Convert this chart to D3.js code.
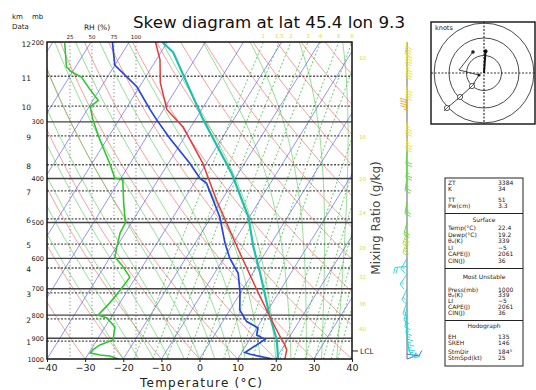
<!DOCTYPE html>
<html>
<head>
<meta charset="utf-8">
<script src="https://cdn.jsdelivr.net/npm/d3@7/dist/d3.min.js"></script>
<style>
body{margin:0;background:#fff;}
svg{display:block;font-family:"DejaVu Sans",Verdana,sans-serif;}
</style>
</head>
<body>
<svg id="chart" width="536" height="390"></svg>
<script>
// ---------- sounding data ----------
const tempP = [1000, 955, 931, 908, 807, 704, 575, 446, 370, 308, 282, 246, 219, 200];
const tempT = [22.4, 21.4, 20.1, 18.5, 11.6, 3.8, -7.5, -21.4, -31.0, -42.0, -49.1, -55.2, -59.0, -63.1];

const dewP = [1000, 976, 968, 905, 885, 854, 827, 780, 711, 647, 600, 556, 486, 410, 400, 370, 326, 297, 282, 251, 225, 200];
const dewT = [19.2, 12.5, 10.9, 14.0, 11.1, 10.3, 6.3, 2.6, -0.3, -3.8, -8.4, -12.1, -17.8, -26.7, -29.2, -34.4, -43.7, -50.1, -53.5, -60.7, -70.0, -74.4];

const parcelP = [1000, 908, 807, 646, 566, 486, 390, 297, 211, 200];
const parcelT = [20.6, 17.2, 11.6, 1.9, -4.1, -10.3, -21.7, -37.9, -56.7, -61.3];

const rhP = [1000, 985, 980, 970, 955, 931, 908, 850, 812, 800, 792, 753, 705, 660, 621, 596, 569, 527, 501, 453, 403, 399, 370, 329, 297, 278, 269, 255, 239, 233, 227, 201];
const rhV = [80, 70, 59, 48, 51, 59, 74, 76, 67, 57, 59, 70, 82, 93, 84, 76, 78, 82, 88, 86, 85, 76, 70, 59, 51, 48, 57, 48, 38, 27, 21, 19];

// winds: pressure (mb), direction (deg), speed (kt)
const windP   = [1000, 975, 950, 925, 900, 875, 850, 825, 800, 775, 750, 700, 650, 625, 600, 550, 525, 500, 450, 400, 375, 350, 325, 300, 285, 250, 225, 210, 200];
const windDir = [70, 100, 140, 160, 170, 175, 180, 185, 190, 195, 200, 205, 215, 265, 210, 200, 200, 195, 190, 190, 185, 185, 185, 185, 355, 185, 185, 185, 190];
const windSpd = [6, 8, 12, 14, 15, 15, 16, 15, 14, 14, 14, 15, 16, 18, 17, 27, 28, 22, 23, 23, 24, 22, 33, 36, 47, 40, 44, 42, 40];

// hodograph trace (kt, u east / v north)
const hodoU = [-5.7, -13.7, -27.4, -42.3];
const hodoV = [-2.3, -14.9, -27.4, -40.0];
const hodoUpperU = [-28.6, -12.6];
const hodoUpperV = [3.4, 24.0];
const hodoRings = [20, 40, 57];

// axes / ticks
const tempTicks = [-40, -30, -20, -10, 0, 10, 20, 30, 40];
const pressureLines = [900, 800, 700, 600, 500, 400, 300];
const pressureLabels = [1000, 900, 800, 700, 600, 500, 400, 300, 200];
const heightKm = [1, 2, 3, 4, 5, 6, 7, 8, 9, 10, 11, 12];
const heightP = [913, 816, 715, 630, 558, 491, 426, 373, 322, 277, 238, 201];
const rhTicks = [25, 50, 75, 100];
const mixRatios = [1, 1.5, 2, 3, 4, 6, 8, 10, 16, 20, 24, 28, 32, 36, 40];
const topMixLabels = [1, 1.5, 2, 3, 4, 6, 8];
const sideMixLabels = [10, 16, 20, 24, 28, 32, 36, 40];
const sideMixLabelP = [217, 324, 400, 477, 568, 659, 756, 858];
const isoTemps = d3.range(-130, 50, 10);
const dryThetaC = d3.range(-40, 170, 10);
const moistThetaW = d3.range(-20, 44, 4);
const lclP = 960;

// summary table
const tableTop = [["ZT", "3384"], ["K", "34"], null, ["TT", "51"], ["Pw(cm)", "3.3"]];
const tableSurface = [["Temp(°C)", "22.4"], ["Dewp(°C)", "19.2"], ["θ\u2091(K)", "339"], ["LI", "\u22125"], ["CAPE(J)", "2061"], ["CIN(J)", "36"]];
const tableMU = [["Press(mb)", "1000"], ["θ\u2091(K)", "339"], ["LI", "\u22125"], ["CAPE(J)", "2061"], ["CIN(J)", "36"]];
const tableHodo = [["EH", "135"], ["SREH", "146"], null, ["StmDir", "184°"], ["StmSpd(kt)", "25"]];
const stormDir = 184, stormSpd = 25;

// ---------- geometry ----------
const svg = d3.select("#chart");
const plot = {left: 47, right: 352, top: 42, bottom: 359};
const xT = d3.scaleLinear().domain([-40, 40]).range([plot.left, plot.right]);
const y = d3.scaleLog().domain([1000, 200]).range([plot.bottom, plot.top]);
const skew = 0.62;
const sx = (T, p) => xT(T) + skew * (plot.bottom - y(p));
const xRH = d3.scaleLinear().domain([0, 100]).range([48, 136]);

// thermodynamics for the background lines
const es = T => 6.112 * Math.exp(17.67 * T / (T + 243.5));
const tdFromE = e => { const l = Math.log(e / 6.112); return 243.5 * l / (17.67 - l); };
const tdFromW = (w, p) => tdFromE(w * p / (622 + w));
const pSteps = d3.range(1000, 195, -5);

function moistPath(tw) {
  const Rd = 287.04, cp = 1005.7, Lv = 2.501e6, eps = 0.622;
  const f = (TT, pp) => {
    const e = es(TT - 273.15), rs = eps * e / (pp - e);
    return (Rd * TT + Lv * rs) / (pp * (cp + Lv * Lv * rs * eps / (Rd * TT * TT)));
  };
  let T = tw + 273.15;
  const pts = [];
  for (let i = 0; i < pSteps.length; i++) {
    const p = pSteps[i];
    pts.push({p, T: T - 273.15});
    if (i < pSteps.length - 1) {
      const dp = pSteps[i + 1] - p;
      const k1 = f(T, p), k2 = f(T + k1 * dp / 2, p + dp / 2), k3 = f(T + k2 * dp / 2, p + dp / 2), k4 = f(T + k3 * dp, p + dp);
      T += dp * (k1 + 2 * k2 + 2 * k3 + k4) / 6;
    }
  }
  return pts;
}

const line = d3.line().x(d => sx(d.T, d.p)).y(d => y(d.p));

svg.append("defs").append("clipPath").attr("id", "plotclip")
  .append("rect").attr("x", plot.left).attr("y", plot.top)
  .attr("width", plot.right - plot.left).attr("height", plot.bottom - plot.top);

const bg = svg.append("g").attr("clip-path", "url(#plotclip)");

// dry adiabats
bg.append("g").selectAll("path").data(dryThetaC).join("path")
  .attr("d", th => line(pSteps.map(p => ({p, T: (th + 273.15) * Math.pow(p / 1000, 0.2857) - 273.15}))))
  .attr("fill", "none").attr("stroke", "#f07070").attr("stroke-width", 0.8).attr("opacity", 0.85);

// moist adiabats
bg.append("g").selectAll("path").data(moistThetaW).join("path")
  .attr("d", tw => line(moistPath(tw)))
  .attr("fill", "none").attr("stroke", "#5fcf5f").attr("stroke-width", 0.8).attr("opacity", 0.85);

// isotherms
bg.append("g").selectAll("path").data(isoTemps).join("path")
  .attr("d", t => line([{p: 1000, T: t}, {p: 200, T: t}]))
  .attr("fill", "none").attr("stroke", "#6060f0").attr("stroke-width", 0.8).attr("opacity", 0.85);

// mixing ratio lines
bg.append("g").selectAll("path").data(mixRatios).join("path")
  .attr("d", w => line(pSteps.map(p => ({p, T: tdFromW(w, p)}))))
  .attr("fill", "none").attr("stroke", "#40c040").attr("stroke-width", 0.9)
  .attr("stroke-dasharray", "2,2").attr("opacity", 0.9);

// RH reference verticals
bg.append("g").selectAll("line").data(rhTicks).join("line")
  .attr("x1", d => xRH(d)).attr("x2", d => xRH(d))
  .attr("y1", plot.top).attr("y2", plot.bottom)
  .attr("stroke", "#777").attr("stroke-width", 0.9).attr("stroke-dasharray", "1.2,2.4");

// height lines (dashed) and pressure lines (solid)
bg.append("g").selectAll("line").data(heightP.slice(0, 11)).join("line")
  .attr("x1", plot.left).attr("x2", plot.right)
  .attr("y1", d => y(d)).attr("y2", d => y(d))
  .attr("stroke", "#555").attr("stroke-width", 1.3).attr("stroke-dasharray", "2,1.5");
bg.append("g").selectAll("line").data(pressureLines).join("line")
  .attr("x1", plot.left).attr("x2", plot.right)
  .attr("y1", d => y(d)).attr("y2", d => y(d))
  .attr("stroke", "#444").attr("stroke-width", 1.3);

// profiles
const prof = svg.append("g").attr("clip-path", "url(#plotclip)");
const lineRH = d3.line().x(d => xRH(d.v)).y(d => y(d.p));
prof.append("path").attr("d", lineRH(rhP.map((p, i) => ({p, v: rhV[i]}))))
  .attr("fill", "none").attr("stroke", "#2ec82e").attr("stroke-width", 1.6);
prof.append("path").attr("d", line(parcelP.map((p, i) => ({p, T: parcelT[i]}))))
  .attr("fill", "none").attr("stroke", "#1fbfae").attr("stroke-width", 2.2);
prof.append("path").attr("d", line(tempP.map((p, i) => ({p, T: tempT[i]}))))
  .attr("fill", "none").attr("stroke", "#e83a3a").attr("stroke-width", 1.5);
prof.append("path").attr("d", line(dewP.map((p, i) => ({p, T: dewT[i]}))))
  .attr("fill", "none").attr("stroke", "#2546e0").attr("stroke-width", 1.7);

// frame
svg.append("rect").attr("x", plot.left).attr("y", plot.top)
  .attr("width", plot.right - plot.left).attr("height", plot.bottom - plot.top)
  .attr("fill", "none").attr("stroke", "#111").attr("stroke-width", 1.5);

// temperature axis
const ax = svg.append("g").attr("transform", `translate(0,${plot.bottom})`)
  .call(d3.axisBottom(xT).tickValues(tempTicks).tickSize(3).tickPadding(2).tickFormat(d3.format("d")));
ax.select(".domain").remove();
ax.selectAll("text").attr("font-size", 9.5).attr("fill", "#222").attr("font-family", "DejaVu Sans");
ax.selectAll("line").attr("stroke", "#222");
svg.append("text").attr("x", 201).attr("y", 387).attr("text-anchor", "middle")
  .attr("font-size", 12).attr("fill", "#222").attr("textLength", 122).text("Temperature (°C)");

// pressure labels
const pax = svg.append("g").attr("transform", `translate(${plot.left - 3},0)`)
  .call(d3.axisLeft(y).tickValues(pressureLabels).tickSize(0).tickPadding(0).tickFormat(d3.format("d")));
pax.select(".domain").remove();
pax.selectAll("text").attr("font-size", 6.5).attr("fill", "#222").attr("font-family", "DejaVu Sans");

// height labels
const hax = svg.append("g").attr("transform", "translate(31,0)")
  .call(d3.axisLeft(y).tickValues(heightP).tickSize(0).tickPadding(0)
    .tickFormat(p => heightKm[heightP.indexOf(p)]));
hax.select(".domain").remove();
hax.selectAll("text").attr("font-size", 7.5).attr("fill", "#222").attr("font-family", "DejaVu Sans").attr("dy", "0.5em");

svg.append("text").attr("x", 12).attr("y", 19).attr("font-size", 7).attr("fill", "#222").text("km");
svg.append("text").attr("x", 32).attr("y", 19).attr("font-size", 7).attr("fill", "#222").text("mb");
svg.append("text").attr("x", 12).attr("y", 29).attr("font-size", 7).attr("fill", "#222").text("Data");

// RH scale on top
svg.append("text").attr("x", 97).attr("y", 30).attr("text-anchor", "middle")
  .attr("font-size", 7.5).attr("fill", "#222").text("RH (%)");
svg.append("g").selectAll("text").data(rhTicks).join("text")
  .attr("x", d => xRH(d)).attr("y", 39).attr("text-anchor", "middle")
  .attr("font-size", 5.5).attr("fill", "#222").text(d => d);

// mixing ratio labels (top edge and right edge)
const mrLabels = svg.append("g").attr("font-size", 5.5).attr("fill", "#dcdc40");
mrLabels.selectAll("text.top").data(topMixLabels).join("text").attr("class", "top")
  .attr("x", w => sx(tdFromW(w, 200), 200)).attr("y", 38)
  .attr("text-anchor", "middle").text(w => w);
mrLabels.selectAll("text.side").data(sideMixLabels).join("text").attr("class", "side")
  .attr("x", plot.right + 7).attr("y", (w, i) => y(sideMixLabelP[i]) + 2).text(w => w);
svg.append("text").attr("transform", "translate(380,218) rotate(-90)")
  .attr("text-anchor", "middle").attr("font-size", 12).attr("fill", "#444")
  .text("Mixing Ratio (g/kg)");

// LCL marker
svg.append("line").attr("x1", plot.right).attr("x2", plot.right + 6)
  .attr("y1", y(lclP)).attr("y2", y(lclP)).attr("stroke", "#222");
svg.append("text").attr("x", plot.right + 8).attr("y", y(lclP) + 3)
  .attr("font-size", 7.5).attr("fill", "#222").text("LCL");

// title
svg.append("text").attr("x", 133).attr("y", 28).attr("font-size", 16)
  .attr("fill", "#111").attr("textLength", 272).attr("lengthAdjust", "spacingAndGlyphs")
  .text("Skew diagram at lat 45.4 lon 9.3");

// ---------- wind barbs ----------
const windX = 407;
const windColor = d3.scaleThreshold().domain([10, 20, 25, 30, 45])
  .range(["#2a5ff0", "#22d2dc", "#55dd33", "#a8e030", "#e8e030", "#f0a020"]);
svg.append("line").attr("x1", windX).attr("x2", windX).attr("y1", plot.top).attr("y2", plot.bottom)
  .attr("stroke", "#666").attr("stroke-width", 1);
const wg = svg.append("g");
windP.forEach((p, i) => {
  const r = windDir[i] * Math.PI / 180;
  const ux = Math.sin(r), uy = -Math.cos(r);      // toward the wind source
  const lx = uy, ly = -ux;                        // feather side
  const L = 12, x0 = windX, y0 = y(p);
  const ex = x0 + ux * L, ey = y0 + uy * L;
  let d = `M${x0},${y0}L${ex},${ey}`;
  let s = Math.round(windSpd[i] / 5) * 5, pos = 0;
  const at = q => [ex - ux * q, ey - uy * q];
  while (s >= 50) {
    const [ax1, ay1] = at(pos), [ax2, ay2] = at(pos + 3);
    d += `M${ax1},${ay1}L${ax1 + lx * 6},${ay1 + ly * 6}L${ax2},${ay2}Z`;
    s -= 50; pos += 4;
  }
  while (s >= 10) {
    const [bx, by] = at(pos);
    d += `M${bx},${by}L${bx + lx * 6 + ux * 2},${by + ly * 6 + uy * 2}`;
    s -= 10; pos += 2.5;
  }
  if (s >= 5) {
    const [bx, by] = at(pos === 0 ? 2.5 : pos);
    d += `M${bx},${by}L${bx + lx * 3 + ux * 1},${by + ly * 3 + uy * 1}`;
  }
  wg.append("path").attr("d", d).attr("fill", windColor(windSpd[i]))
    .attr("stroke", windColor(windSpd[i])).attr("stroke-width", 0.9);
});

// ---------- hodograph ----------
const hb = {x: 431, y: 22, w: 104, h: 102};
const hc = {x: 484, y: 73};
const hs = d3.scaleLinear().domain([0, 20]).range([0, 17.5]);
const hod = svg.append("g");
hod.append("defs").append("clipPath").attr("id", "hodoclip")
  .append("rect").attr("x", hb.x).attr("y", hb.y).attr("width", hb.w).attr("height", hb.h);
const hin = hod.append("g").attr("clip-path", "url(#hodoclip)");
hin.selectAll("circle").data(hodoRings).join("circle")
  .attr("cx", hc.x).attr("cy", hc.y).attr("r", d => hs(d))
  .attr("fill", "none").attr("stroke", "#333").attr("stroke-width", 0.9);
hin.append("line").attr("x1", hb.x).attr("x2", hb.x + hb.w).attr("y1", hc.y).attr("y2", hc.y)
  .attr("stroke", "#333").attr("stroke-width", 1.2).attr("stroke-dasharray", "2,1.5");
hin.append("line").attr("x1", hc.x).attr("x2", hc.x).attr("y1", hb.y).attr("y2", hb.y + hb.h)
  .attr("stroke", "#333").attr("stroke-width", 1.2).attr("stroke-dasharray", "2,1.5");
const hx = u => hc.x + hs(u), hy = v => hc.y - hs(v);
const hline = d3.line().x(d => hx(d[0])).y(d => hy(d[1]));
const lower = hodoU.map((u, i) => [u, hodoV[i]]);
const upper = hodoUpperU.map((u, i) => [u, hodoUpperV[i]]);
hin.append("path").attr("d", hline(lower)).attr("fill", "none").attr("stroke", "#333").attr("stroke-width", 0.9);
hin.append("path").attr("d", hline([lower[0], ...upper])).attr("fill", "none").attr("stroke", "#333").attr("stroke-width", 0.9);
lower.slice(1).forEach(([u, v]) => {
  hin.append("circle").attr("cx", hx(u)).attr("cy", hy(v)).attr("r", 2.6)
    .attr("fill", "#fff").attr("stroke", "#333").attr("stroke-width", 0.8);
  hin.append("line").attr("x1", hx(u) - 3).attr("x2", hx(u) + 3).attr("y1", hy(v) + 3).attr("y2", hy(v) - 3)
    .attr("stroke", "#333").attr("stroke-width", 0.8);
});
hin.append("circle").attr("cx", hx(lower[0][0])).attr("cy", hy(lower[0][1])).attr("r", 1.6).attr("fill", "#222");
hin.append("circle").attr("cx", hx(upper[1][0])).attr("cy", hy(upper[1][1])).attr("r", 1.8).attr("fill", "#222");
const sr = (stormDir + 180) * Math.PI / 180;
const su = stormSpd * Math.sin(sr), sv = stormSpd * Math.cos(sr);
hin.append("line").attr("x1", hc.x).attr("y1", hc.y).attr("x2", hx(su)).attr("y2", hy(sv))
  .attr("stroke", "#111").attr("stroke-width", 2);
hin.append("circle").attr("cx", hx(su)).attr("cy", hy(sv)).attr("r", 2).attr("fill", "#111");
hod.append("rect").attr("x", hb.x).attr("y", hb.y).attr("width", hb.w).attr("height", hb.h)
  .attr("fill", "none").attr("stroke", "#111").attr("stroke-width", 1.4);
hod.append("text").attr("x", hb.x + 4).attr("y", hb.y + 8).attr("font-size", 6.5).attr("fill", "#222").text("knots");

// ---------- summary table ----------
const tb = {x: 445, y: 178, w: 78, h: 188};
const tg = svg.append("g").attr("font-size", 6).attr("fill", "#222");
tg.append("rect").attr("x", tb.x).attr("y", tb.y).attr("width", tb.w).attr("height", tb.h)
  .attr("fill", "none").attr("stroke", "#222").attr("stroke-width", 1);
function rowsAt(list, y0, step) {
  let yy = y0;
  list.forEach(r => {
    if (!r) { yy += 4; return; }
    tg.append("text").attr("x", tb.x + 3).attr("y", yy).text(r[0]);
    tg.append("text").attr("x", tb.x + 53).attr("y", yy).text(r[1]);
    yy += step;
  });
}
function sep(yy) {
  tg.append("line").attr("x1", tb.x).attr("x2", tb.x + tb.w).attr("y1", yy).attr("y2", yy)
    .attr("stroke", "#222").attr("stroke-width", 1);
}
function heading(t, yy) {
  tg.append("text").attr("x", tb.x + tb.w / 2).attr("y", yy).attr("text-anchor", "middle").text(t);
}
rowsAt(tableTop, 184.5, 6.5);
sep(213.5);
heading("Surface", 221.5);
rowsAt(tableSurface, 230, 6.5);
sep(268.5);
heading("Most Unstable", 279);
rowsAt(tableMU, 291.5, 5.9);
sep(320.5);
heading("Hodograph", 328);
rowsAt(tableHodo, 339, 5.7);
</script>
</body>
</html>
